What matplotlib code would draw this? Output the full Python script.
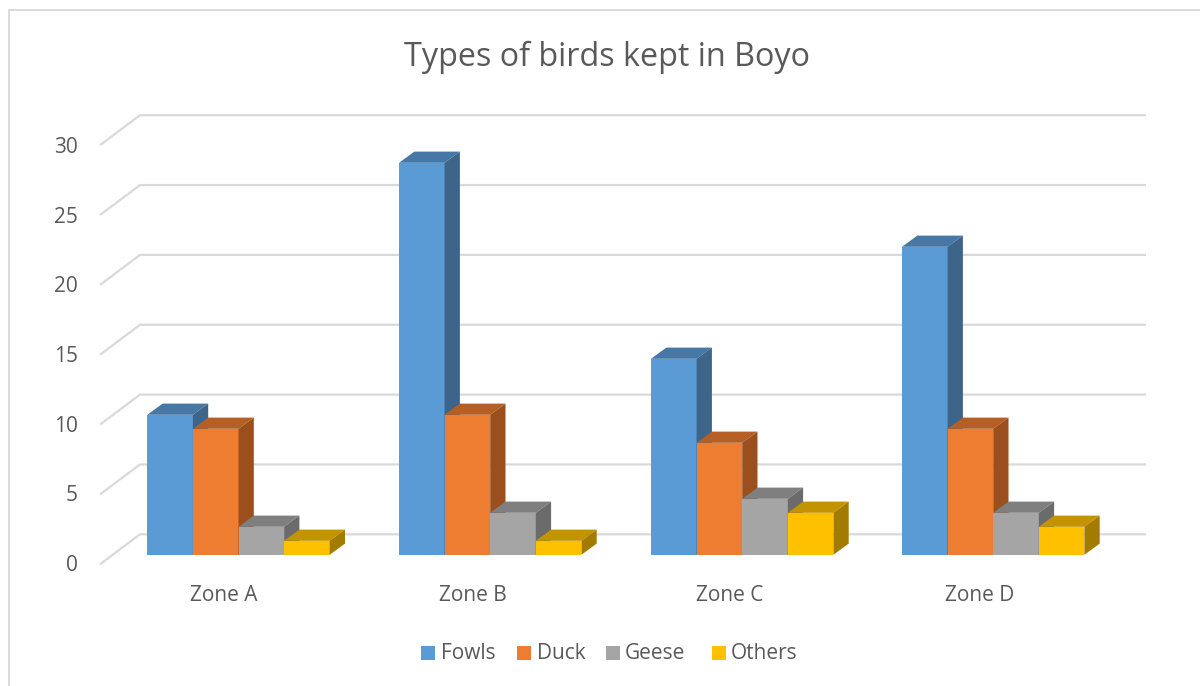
import matplotlib
matplotlib.use("Agg")
import matplotlib.pyplot as plt
from matplotlib.patches import Polygon, Rectangle

plt.rcParams['font.family'] = ['Open Sans', 'DejaVu Sans']

title = "Types of birds kept in Boyo"
zones = ["Zone A", "Zone B", "Zone C", "Zone D"]
series_names = ["Fowls", "Duck", "Geese", "Others"]
fowls = [10, 28, 14, 22]
duck = [9, 10, 8, 9]
geese = [2, 3, 4, 3]
others = [1, 1, 3, 2]
y_ticks = [0, 5, 10, 15, 20, 25, 30]

front_colors = ["#5B9BD5", "#ED7D31", "#A5A5A5", "#FFC000"]
top_colors = ["#4777A5", "#B65F24", "#7F7F7F", "#C49400"]
side_colors = ["#3C6589", "#9A4F1C", "#6B6B6B", "#A37B00"]
text_color = "#595959"
grid_color = "#D9D9D9"

W, H = 1200, 686
PX_PER_VAL = 14.0
BASE_PX = 554.8
GROUP_X = [147.3, 399.0, 651.0, 902.0]
BAR_W = 45.6
DEPTH_X, DEPTH_Y = 15.3, 11.2

fig = plt.figure(figsize=(W / 100, H / 100), dpi=100, facecolor="white")
ax = fig.add_axes([0, 0, 1, 1])
# x axis in pixels, y axis in chart values
ax.set_xlim(0, W)
ax.set_ylim((BASE_PX - H) / PX_PER_VAL, BASE_PX / PX_PER_VAL)
ax.axis("off")


def yv(px):
    return (BASE_PX - px) / PX_PER_VAL


# chart frame
ax.plot([8.5, 8.5, W], [yv(H), yv(9.5), yv(9.5)], color=grid_color, lw=1.3, zorder=1,
        solid_joinstyle="miter")

# gridlines: back wall plus the diagonal on the side wall
for t in y_ticks:
    back = yv(534.3 - t * 13.97)
    front = back - 30 / PX_PER_VAL
    ax.plot([100, 140, 1146], [front, back, back], color=grid_color, lw=1.6, zorder=1,
            solid_joinstyle="miter", solid_capstyle="butt")
    ax.text(78, yv(562.8 - t * 69.6 / 5), str(t), ha="right", va="center_baseline",
            fontsize=15, color=text_color)

# 3-D bars
dv = DEPTH_Y / PX_PER_VAL
series = [fowls, duck, geese, others]
for gi, gx in enumerate(GROUP_X):
    for si, vals in enumerate(series):
        v = vals[gi]
        x0 = gx + si * BAR_W
        x1 = x0 + BAR_W
        z = 3 + gi * 10 + si
        ax.bar(x0, v, width=BAR_W, align="edge", color=front_colors[si], lw=0, zorder=z)
        ax.add_patch(Polygon([(x0, v), (x1, v), (x1 + DEPTH_X, v + dv), (x0 + DEPTH_X, v + dv)],
                             closed=True, fc=top_colors[si], lw=0, zorder=z))
        ax.add_patch(Polygon([(x1, 0), (x1, v), (x1 + DEPTH_X, v + dv), (x1 + DEPTH_X, dv)],
                             closed=True, fc=side_colors[si], lw=0, zorder=z))

# category labels
for name, cx in zip(zones, [224, 472.5, 729.5, 980]):
    ax.text(cx, yv(593), name, ha="center", va="center_baseline", fontsize=15, color=text_color)

# legend
for name, col, sx, tx in zip(series_names, front_colors, [421, 517, 606, 712], [441, 537, 625, 731]):
    ax.add_patch(Rectangle((sx, yv(660)), 14, 14 / PX_PER_VAL, fc=col, lw=0, zorder=2))
    ax.text(tx, yv(651), name, ha="left", va="center_baseline", fontsize=15, color=text_color)

ax.text(607, yv(53.5), title, ha="center", va="center_baseline", fontsize=23.3, color=text_color)

fig.savefig("out.png", dpi=100, facecolor="white")
